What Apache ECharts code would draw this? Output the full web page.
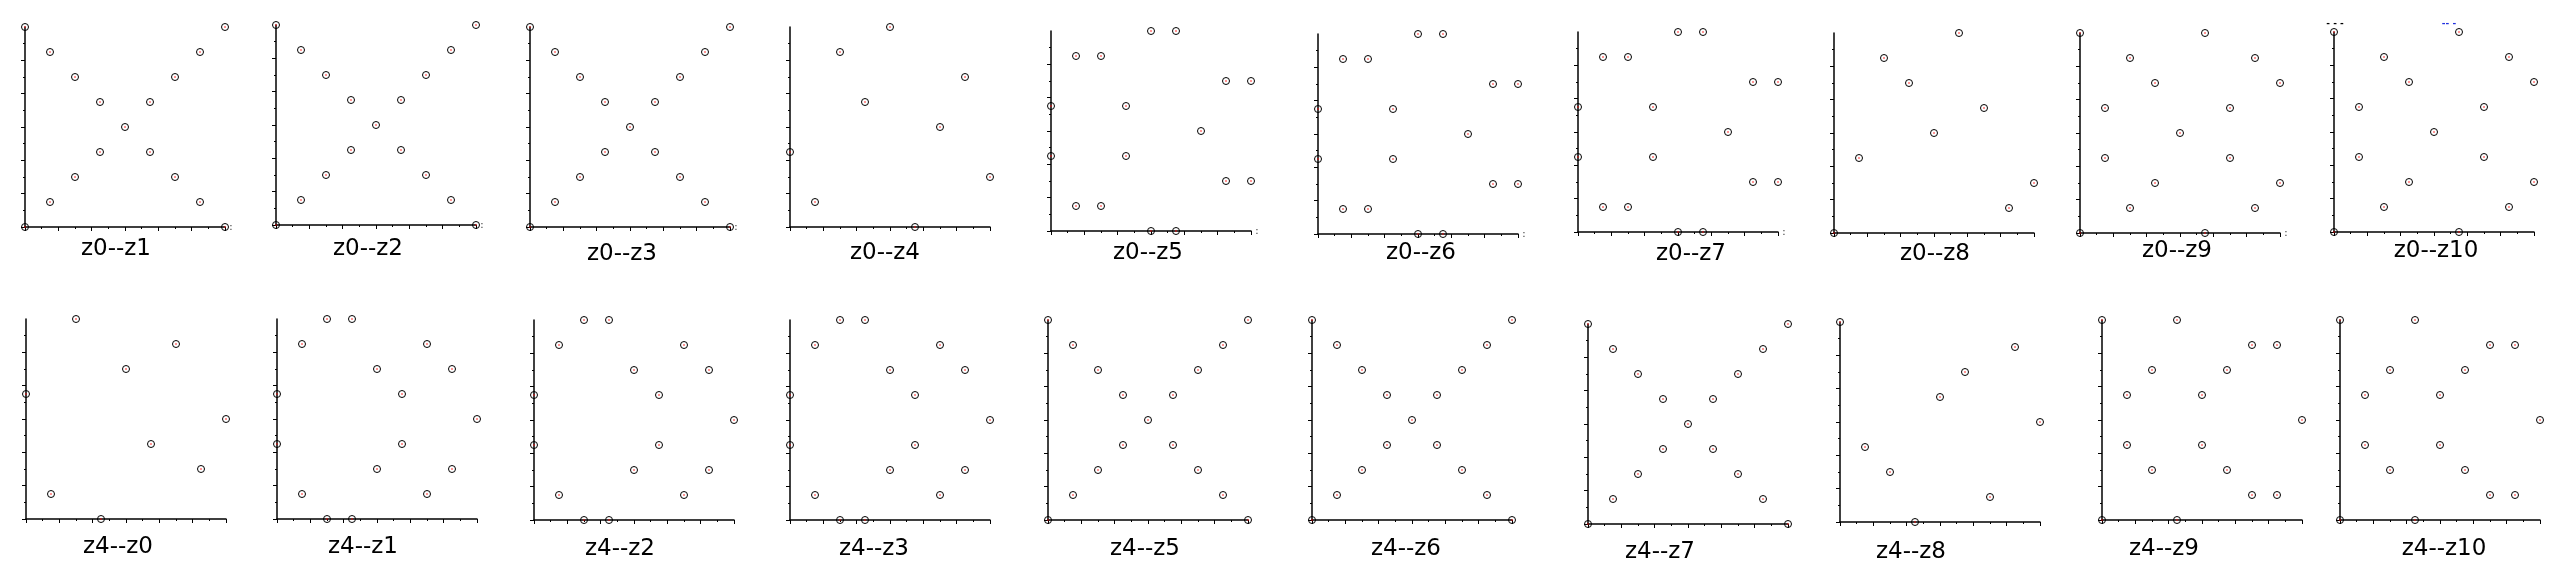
<!DOCTYPE html>
<html><head><meta charset="utf-8">
<script src="https://cdn.jsdelivr.net/npm/echarts@6/dist/echarts.min.js"></script>
<style>html,body{margin:0;padding:0;background:#fff}#c{width:2572px;height:588px}</style>
</head><body><div id="c"></div>
<script>
// ---------- data ----------
const panelTitles = ['z0--z1','z0--z2','z0--z3','z0--z4','z0--z5','z0--z6','z0--z7','z0--z8','z0--z9','z0--z10',
                     'z4--z0','z4--z1','z4--z2','z4--z3','z4--z5','z4--z6','z4--z7','z4--z8','z4--z9','z4--z10'];
const xShape = [[0,0],[0,8],[1,1],[1,7],[2,2],[2,6],[3,3],[3,5],[4,4],[5,3],[5,5],[6,2],[6,6],[7,1],[7,7],[8,0],[8,8]];
const z0z4 = [[0,3],[1,1],[2,7],[3,5],[4,8],[5,0],[6,4],[7,6],[8,2]];
const z0z5 = [[0,3],[0,5],[1,1],[1,7],[2,1],[2,7],[3,3],[3,5],[4,0],[4,8],[5,0],[5,8],[6,4],[7,2],[7,6],[8,2],[8,6]];
const z0z8 = [[0,0],[1,3],[2,7],[3,6],[4,4],[5,8],[6,5],[7,1],[8,2]];
const z0z9 = [[0,0],[0,8],[1,3],[1,5],[2,1],[2,7],[3,2],[3,6],[4,4],[5,0],[5,8],[6,3],[6,5],[7,1],[7,7],[8,2],[8,6]];
const z4z0 = [[0,5],[1,1],[2,8],[3,0],[4,6],[5,3],[6,7],[7,2],[8,4]];
const z4z1 = [[0,3],[0,5],[1,1],[1,7],[2,0],[2,8],[3,0],[3,8],[4,2],[4,6],[5,3],[5,5],[6,1],[6,7],[7,2],[7,6],[8,4]];
const z4z8 = [[0,8],[1,3],[2,2],[3,0],[4,5],[5,6],[6,1],[7,7],[8,4]];
const z4z9 = [[0,0],[0,8],[1,3],[1,5],[2,2],[2,6],[3,0],[3,8],[4,3],[4,5],[5,2],[5,6],[6,1],[6,7],[7,1],[7,7],[8,4]];
const panelData = [xShape, xShape, xShape, z0z4, z0z5, z0z5, z0z5, z0z8, z0z9, z0z9,
                   z4z0, z4z1, z4z1, z4z1, xShape, xShape, xShape, z4z8, z4z9, z4z9];
const axisMin = 0, axisMax = 8, tickStep = 4 / 3;
const yMajorTicks = [0, 4/3, 8/3, 4, 16/3, 20/3];

// ---------- layout ----------
const plotPos = [[25,27],[276,25],[530,27],[790,27],[1051,31],[1318,34],[1578,32],[1834,33],[2080,33],[2334,32],
                 [26,319],[277,319],[534,320],[790,320],[1048,320],[1312,320],[1588,324],[1840,322],[2102,320],[2340,320]];
const titlePos = [[116,249],[368,249],[622,254],[885,253],[1148,253],[1421,253],[1691,254],[1935,254],[2177,251],[2436,251],
                  [118,547],[363,547],[620,549],[874,549],[1145,549],[1406,549],[1660,552],[1911,552],[2164,549],[2444,549]];
const colonPanels = [0,1,2,4,5,6,8];
const PLOT = 200;

const grids = [], xAxes = [], yAxes = [], series = [], graphics = [];
panelTitles.forEach((t, i) => {
  const [L, T] = plotPos[i];
  grids.push({left: L, top: T, width: PLOT, height: PLOT, containLabel: false, outerBoundsMode: 'none'});
  const common = {
    type: 'value', gridIndex: i, min: axisMin, max: axisMax, interval: tickStep,
    splitLine: {show: false}, axisLabel: {show: false},
    axisLine: {show: true, onZero: false, lineStyle: {color: '#000', width: 1.5}},
    axisTick: {show: true, inside: false, length: 4, lineStyle: {color: '#000', width: 1}},
    minorTick: {show: true, splitNumber: 2, length: 2, lineStyle: {color: '#000', width: 1}},
    minorSplitLine: {show: false}
  };
  xAxes.push(Object.assign({}, common));
  const y = Object.assign({}, common);
  y.axisTick = Object.assign({}, common.axisTick, {customValues: yMajorTicks});
  yAxes.push(y);
  series.push({
    type: 'scatter', xAxisIndex: i, yAxisIndex: i, data: panelData[i], clip: false,
    symbol: 'circle', symbolSize: 7,
    itemStyle: {color: 'rgba(255,255,255,0)', borderColor: '#000', borderWidth: 1, opacity: 1},
    emphasis: {disabled: true}, silent: true, z: 3
  });
  series.push({
    type: 'scatter', xAxisIndex: i, yAxisIndex: i, data: panelData[i], clip: false,
    symbol: 'rect', symbolSize: 1.4,
    itemStyle: {color: '#ff0000'}, emphasis: {disabled: true}, silent: true, z: 4
  });
  graphics.push({
    type: 'text', x: titlePos[i][0], y: titlePos[i][1],
    style: {text: t, fill: '#000', font: '23px "DejaVu Sans"', align: 'center', verticalAlign: 'middle'}
  });
});
colonPanels.forEach(i => {
  const [L, T] = plotPos[i];
  graphics.push({type: 'text', x: L + PLOT + 6, y: T + PLOT,
    style: {text: ':', fill: '#333', font: '10px "DejaVu Sans"', align: 'center', verticalAlign: 'middle'}});
});
graphics.push({type: 'text', x: 2335, y: 24, style: {text: '- - -', fill: '#000', font: 'bold 9px "DejaVu Sans"', align: 'center', verticalAlign: 'middle'}});
graphics.push({type: 'text', x: 2449, y: 24, style: {text: '-- -', fill: '#2030e0', font: 'bold 9px "DejaVu Sans"', align: 'center', verticalAlign: 'middle'}});

const chart = echarts.init(document.getElementById('c'), null, {renderer: 'canvas'});
chart.setOption({
  animation: false, backgroundColor: '#fff',
  grid: grids, xAxis: xAxes, yAxis: yAxes, series: series, graphic: graphics
});
</script></body></html>
